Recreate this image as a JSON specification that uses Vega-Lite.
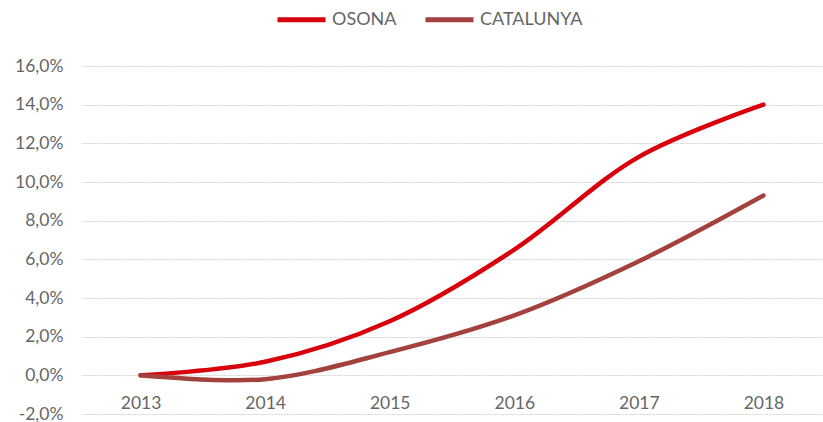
{
  "$schema": "https://vega.github.io/schema/vega-lite/v6.json",
  "width": 740,
  "height": 348,
  "autosize": {"type": "none"},
  "padding": {"left": 82, "top": 66, "right": 1, "bottom": 8},
  "background": "white",
  "config": {
    "view": {"stroke": null},
    "font": "Lato",
    "locale": {"number": {"decimal": ",", "thousands": ".", "grouping": [3], "currency": ["", " €"], "minus": "-"}}
  },
  "data": {
    "values": [
      {"year": "2013", "serie": "OSONA", "value": 0.0},
      {"year": "2014", "serie": "OSONA", "value": 0.007},
      {"year": "2015", "serie": "OSONA", "value": 0.028},
      {"year": "2016", "serie": "OSONA", "value": 0.065},
      {"year": "2017", "serie": "OSONA", "value": 0.113},
      {"year": "2018", "serie": "OSONA", "value": 0.14},
      {"year": "2013", "serie": "CATALUNYA", "value": 0.0},
      {"year": "2014", "serie": "CATALUNYA", "value": -0.002},
      {"year": "2015", "serie": "CATALUNYA", "value": 0.012},
      {"year": "2016", "serie": "CATALUNYA", "value": 0.031},
      {"year": "2017", "serie": "CATALUNYA", "value": 0.059},
      {"year": "2018", "serie": "CATALUNYA", "value": 0.093}
    ]
  },
  "mark": {"type": "line", "interpolate": "catmull-rom", "strokeWidth": 4.5, "strokeCap": "round"},
  "encoding": {
    "x": {
      "field": "year", "type": "ordinal",
      "scale": {"type": "point", "padding": 0.47},
      "axis": {"title": null, "labelAngle": 0, "ticks": false, "domain": false, "grid": false,
               "labelPadding": -20, "labelBaseline": "top", "labelFontSize": 17.5, "labelColor": "#666666"}
    },
    "y": {
      "field": "value", "type": "quantitative",
      "scale": {"domain": [-0.02, 0.16], "nice": false, "zero": false},
      "axis": {"title": null, "format": ".1%", "values": [-0.02, 0, 0.02, 0.04, 0.06, 0.08, 0.1, 0.12, 0.14, 0.16],
               "labelOverlap": false, "labelFlush": false,
               "ticks": false, "domain": false, "labelPadding": 19, "labelFontSize": 17.5, "labelColor": "#666666",
               "gridColor": "#d4d4d4", "gridWidth": 1, "gridDash": [2, 1]}
    },
    "color": {
      "field": "serie", "type": "nominal",
      "scale": {"domain": ["OSONA", "CATALUNYA"], "range": ["#D9000D", "#A3413F"]},
      "legend": {"title": null, "orient": "none", "legendX": 193, "legendY": -73, "direction": "horizontal",
                 "symbolType": "stroke", "symbolSize": 2304, "symbolStrokeWidth": 5,
                 "labelFontSize": 18, "labelColor": "#666666", "columnPadding": 18, "labelOffset": 4}
    }
  }
}
